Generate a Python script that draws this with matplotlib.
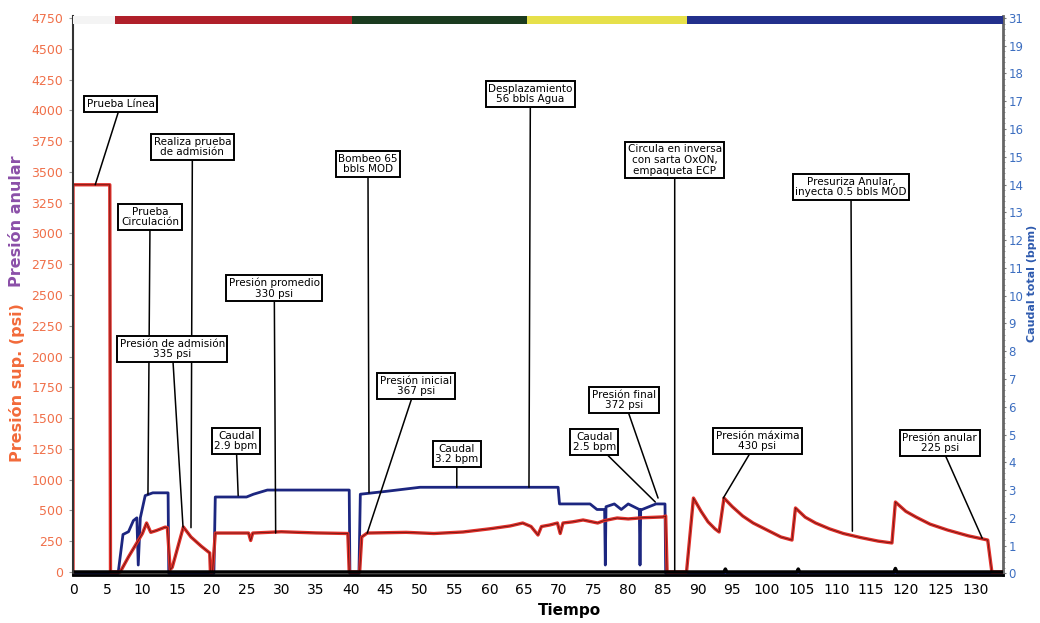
import matplotlib.pyplot as plt
import numpy as np

# ---- data ----
# presion superficie (psi) vs tiempo
t_sup = [0, 0, 5.3, 5.4, 6.8, 8.0, 9.0, 10.0, 10.6, 11.2, 12.0, 13.3, 13.6, 14.0, 14.3,
         15.9, 17.0, 18.5, 19.7, 19.8, 20.1, 20.5, 25.3, 25.6, 25.9, 30, 35, 39.6, 39.8,
         41.3, 41.6, 42.4, 48, 52, 56.2, 60, 63, 64.8, 66.0, 67.0, 67.5, 68.7, 69.8, 70.2,
         70.6, 72, 73.5, 75.6, 76.5, 78.4, 80, 82, 85, 85.4, 85.6, 88.4, 89.4, 90.5, 91.5,
         92.5, 93.1, 93.8, 95, 96.5, 98, 100, 102, 103.6, 104.1, 105.5, 107, 109, 111,
         113.5, 116, 118, 118.5, 120, 121.5, 123.5, 126, 129, 131.8, 132.4, 134]
p_sup = [0, 3320, 3320, 0, 0, 130, 230, 330, 420, 340, 355, 385, 380, 20, 40,
         386, 300, 220, 163, 0, 0, 334, 334, 270, 334, 345, 335, 330, 0,
         0, 300, 334, 340, 330, 343, 370, 395, 420, 390, 317, 390, 403, 420, 330,
         420, 430, 446, 420, 440, 463, 455, 465, 472, 480, 0, 0, 634, 520, 430,
         370, 343, 634, 560, 480, 420, 360, 300, 274, 549, 470, 420, 370, 330,
         295, 265, 249, 600, 520, 470, 410, 360, 310, 274, 0, 0]

# presion anular (psi)
t_anular = [0, 93.8, 94.0, 94.2, 104.3, 104.5, 104.7, 118.3, 118.5, 118.7, 134]
p_anular = [0, 0, 25, 0, 0, 25, 0, 0, 30, 0, 0]

# caudal total (bpm)
t_q = [0, 6.5, 7.2, 8.0, 8.7, 9.2, 9.4, 9.7, 10.4, 11.5, 13.7, 13.8, 20.3, 20.5, 25, 26,
       28, 39.8, 39.9, 41.2, 41.4, 45, 50, 60, 69.9, 70.1, 74.5, 75.5, 76.6, 76.7, 76.8,
       78, 79, 80, 81.6, 81.7, 81.8, 82.0, 84.0, 85.3, 85.4, 134]
q = [0, 0, 1.4, 1.5, 1.9, 2.0, 0.3, 2.0, 2.8, 2.9, 2.9, 0, 0, 2.75, 2.75, 2.85,
     3.0, 3.0, 0, 0, 2.85, 2.95, 3.1, 3.1, 3.1, 2.5, 2.5, 2.3, 2.3, 0.3, 2.4,
     2.5, 2.3, 2.5, 2.3, 0.3, 2.3, 2.3, 2.5, 2.5, 0, 0]

# fases (barra superior)
fase_lim = [0, 6, 40.2, 65.4, 88.5, 134]
fase_col = ['#f4f4f4', '#b0202a', '#1b3b1f', '#e6e04a', '#22308c']

# etiquetas de ejes
x_ticks = list(range(0, 135, 5))
left_labels = ['0', '250', '500', '1000', '1250', '1500', '1750', '2000', '2250', '2500',
               '2750', '3000', '3250', '3500', '3750', '4000', '4250', '4500', '4750']
right_labels = [str(i) for i in range(20)] + ['31']

# anotaciones: texto, posicion de la caja (t, psi), punto (t, valor), eje del punto
ann_text = ['Prueba Línea', 'Realiza prueba\nde admisión', 'Prueba\nCirculación',
            'Presión de admisión\n335 psi', 'Presión promedio\n330 psi', 'Caudal\n2.9 bpm',
            'Bombeo 65\nbbls MOD', 'Desplazamiento\n56 bbls Agua', 'Presión inicial\n367 psi',
            'Caudal\n3.2 bpm', 'Circula en inversa\ncon sarta OxON,\nempaqueta ECP',
            'Presión final\n372 psi', 'Caudal\n2.5 bpm',
            'Presuriza Anular,\ninyecta 0.5 bbls MOD', 'Presión máxima\n430 psi',
            'Presión anular\n225 psi']
ann_box = [(6.9, 4013), (17.2, 3644), (11.1, 3044), (14.3, 1912), (29.0, 2435),
           (23.5, 1123), (42.5, 3498), (65.9, 4098), (49.4, 1595), (55.3, 1012),
           (86.7, 3532), (79.4, 1475), (75.1, 1115), (112.1, 3301), (98.6, 1123),
           (124.9, 1106)]
ann_pt = [(3.2, 3320), (17.0, 380), (10.8, 2.85), (15.85, 386), (29.2, 334),
          (23.8, 2.8), (42.65, 2.9), (65.7, 3.1), (42.4, 334), (55.3, 3.1),
          (86.7, 0), (84.3, 634), (83.9, 2.57), (112.3, 350), (93.7, 634),
          (131.0, 291)]
ann_eje = ['p', 'p', 'q', 'p', 'p', 'q', 'q', 'q', 'p', 'q', 'p', 'p', 'q', 'p', 'p', 'p']

orange = '#f0704a'
blue_lab = '#3c6ec0'

fig = plt.figure(figsize=(10.4, 6.23), dpi=100)
ax = fig.add_axes([0.0702, 0.0770, 0.8942, 0.8973])
ax2 = ax.twinx()
# presiones por encima del caudal
ax.set_zorder(ax2.get_zorder() + 1)
ax.patch.set_visible(False)

# curvas
ax2.plot(t_q, q, color='#1c2680', lw=2)
ax.plot(t_sup, p_sup, color='#e0302a', lw=2.4)
ax.plot(t_sup, p_sup, color='black', lw=0.5, alpha=0.6)
ax.plot(t_anular, p_anular, color='black', lw=2.5)

ax.set_xlim(0, 134)
ax.set_ylim(-26, 4767)
ax2.set_ylim(-0.06, 20.07)

ax.set_xticks(x_ticks)
ax.set_xticklabels([str(v) for v in x_ticks], fontsize=10)
ax.set_yticks(np.linspace(0, 4750, 19))
ax.set_yticklabels(left_labels, fontsize=9, color=orange)
ax2.set_yticks(range(21))
ax2.set_yticklabels(right_labels, fontsize=8.5, color=blue_lab)
ax2.set_yticks(np.arange(0, 20.01, 0.2), minor=True)

ax.tick_params(axis='x', length=0, pad=6)
ax.tick_params(axis='y', length=3, color='#999999', pad=4)
ax2.tick_params(axis='y', which='major', length=2, color='#777777', pad=2)
ax2.tick_params(axis='y', which='minor', length=1.5, color='#888888')

for a in (ax, ax2):
    a.spines['top'].set_visible(False)
ax.spines['left'].set_color('#333333')
ax.spines['left'].set_linewidth(1.5)
ax.spines['bottom'].set_linewidth(2)
ax.spines['right'].set_visible(False)
ax2.spines['right'].set_color('#666666')
ax2.spines['right'].set_linewidth(2)
ax2.spines['left'].set_visible(False)
ax2.spines['bottom'].set_visible(False)

# barra de fases
for i in range(len(fase_col)):
    ax.axvspan(fase_lim[i], fase_lim[i + 1], ymin=0.986, ymax=1.0,
               color=fase_col[i], lw=0, zorder=5)

# anotaciones
for txt, box, pt, eje in zip(ann_text, ann_box, ann_pt, ann_eje):
    tr = ax.transData if eje == 'p' else ax2.transData
    ax.annotate(txt, xy=pt, xycoords=tr, xytext=box, textcoords=ax.transData,
                ha='center', va='center', fontsize=7.5, linespacing=1.1,
                bbox=dict(boxstyle='square,pad=0.25', fc='white', ec='black', lw=1.4),
                arrowprops=dict(arrowstyle='-', color='black', lw=1.1,
                                shrinkA=0, shrinkB=0),
                zorder=10)

ax.set_xlabel('Tiempo', fontsize=11, fontweight='bold')
ax.xaxis.set_label_coords((569 - 73) / 930, -0.05)

fig.text(17 / 1040, 1 - 221 / 623, 'Presión anular', rotation=90, ha='center',
         va='center', fontsize=11.5, fontweight='bold', color='#8b4fa8')
fig.text(17 / 1040, 1 - 383 / 623, 'Presión sup. (psi)', rotation=90, ha='center',
         va='center', fontsize=11.5, fontweight='bold', color='#f26a3a')
fig.text(1032 / 1040, 1 - 283 / 623, 'Caudal total (bpm)', rotation=90, ha='center',
         va='center', fontsize=8, fontweight='bold', color='#2e5aae')

fig.savefig('out.png', dpi=100)
